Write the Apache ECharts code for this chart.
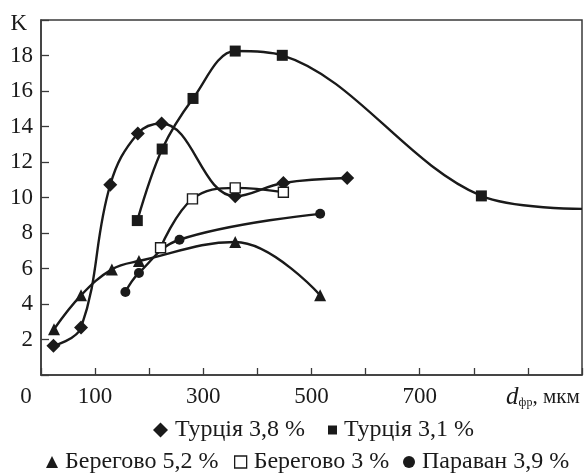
<!DOCTYPE html>
<html>
<head>
<meta charset="utf-8">
<script src="https://cdn.jsdelivr.net/npm/echarts@6/dist/echarts.min.js"></script>
<style>html,body{margin:0;padding:0;background:#fff}#c{width:585px;height:476px}</style>
</head>
<body>
<div id="c"></div>
<script>
// ---- data ----
const seriesNames = ['Турція 3,8 %', 'Турція 3,1 %', 'Берегово 5,2 %', 'Берегово 3 %', 'Параван 3,9 %'];
const turkey38X = [23, 74, 128, 179, 223, 359, 448, 566];
const turkey38Y = [1.65, 2.67, 10.72, 13.61, 14.17, 10.07, 10.82, 11.1];
const turkey31X = [178, 224, 281, 359, 446, 814, 1000];
const turkey31Y = [8.7, 12.73, 15.58, 18.25, 18.01, 10.09, 9.36];
const beregovo52X = [24, 74, 131, 181, 359, 516];
const beregovo52Y = [2.58, 4.49, 5.95, 6.42, 7.49, 4.49];
const beregovo3X = [221, 280, 359, 448];
const beregovo3Y = [7.17, 9.92, 10.54, 10.3];
const paravanX = [156, 181, 256, 516];
const paravanY = [4.68, 5.75, 7.62, 9.08];
const xTickLabels = {0: '0', 100: '100', 300: '300', 500: '500', 700: '700'};
const yTickLabels = {2: '2', 4: '4', 6: '6', 8: '8', 10: '10', 12: '12', 14: '14', 16: '16', 18: '18', 20: 'K'};

const FONT = "'Liberation Serif', 'Times New Roman', 'DejaVu Serif', serif";
const INK = '#1a1a1a';
const pairs = (xs, ys) => xs.map((x, i) => [x, ys[i]]);

function line(name, data, symbol, size, itemStyle, smooth) {
  return {
    name, type: 'line', data, symbol, symbolSize: size, smooth: smooth || 0.4,
    lineStyle: {color: INK, width: 2.4},
    itemStyle: Object.assign({color: INK, borderWidth: 0}, itemStyle || {}),
    z: 3
  };
}

const t31 = pairs(turkey31X, turkey31Y).map((p, i, a) => i === a.length - 1 ? {value: p, symbol: 'none'} : p);

const chart = echarts.init(document.getElementById('c'), null, {renderer: 'canvas'});
function leg(name, icon, size, left, top, fontSize, itemStyle) {
  return {
    data: [Object.assign({name, icon}, itemStyle ? {itemStyle} : {})],
    left, top, itemWidth: size, itemHeight: size, selectedMode: false,
    textStyle: {fontFamily: FONT, fontSize, color: INK, padding: [0, 0, 0, 2]}, padding: 0
  };
}
chart.setOption({
  animation: false,
  backgroundColor: '#fff',
  grid: {left: 41, right: 3, top: 20, bottom: 101, show: true, borderColor: '#3a3a3a', borderWidth: 1.5},
  legend: [
    leg(seriesNames[0], 'diamond', 15, 153, 418, 24),
    leg(seriesNames[1], 'rect', 9, 328, 418, 24),
    leg(seriesNames[2], 'triangle', 12, 46, 450, 24),
    leg(seriesNames[3], 'rect', 12, 234, 450, 24, {color: '#fff', borderColor: INK, borderWidth: 1.3}),
    leg(seriesNames[4], 'circle', 12, 403, 450, 24)
  ],
  xAxis: {
    type: 'value', min: 0, max: 1000, interval: 100,
    axisLine: {lineStyle: {color: '#3a3a3a', width: 1.5}},
    axisTick: {inside: true, length: 7, lineStyle: {color: '#3a3a3a', width: 1.3}},
    splitLine: {show: false},
    axisLabel: {
      margin: 10, fontFamily: FONT, fontSize: 23, color: INK, showMaxLabel: true, showMinLabel: true,
      formatter: v => {
        if (v === 0) return '{z|0}';
        if (v === 900) return '{d|d}{s|фр}{u|, мкм}';
        return xTickLabels[v] || '';
      },
      rich: {
        z: {fontFamily: FONT, fontSize: 23, color: INK, padding: [0, 30, 0, 0]},
        d: {fontFamily: FONT, fontSize: 25, fontStyle: 'italic', color: INK, padding: [0, 0, 0, 30]},
        s: {fontFamily: FONT, fontSize: 12, color: INK, padding: [10, 0, 0, 0]},
        u: {fontFamily: FONT, fontSize: 21, color: INK}
      }
    }
  },
  yAxis: {
    type: 'value', min: 0, max: 20, interval: 2,
    axisLine: {show: true, lineStyle: {color: '#3a3a3a', width: 1.5}},
    axisTick: {show: true, inside: true, length: 8, lineStyle: {color: '#3a3a3a', width: 1.3}},
    splitLine: {show: false},
    axisLabel: {
      margin: 8, fontFamily: FONT, fontSize: 23, color: INK,
      formatter: v => v === 20 ? '{k|K}' : (yTickLabels[v] || ''),
      rich: {k: {fontFamily: FONT, fontSize: 23, color: INK, padding: [8, 6, 0, 0]}}
    }
  },
  series: [
    line(seriesNames[0], pairs(turkey38X, turkey38Y), 'diamond', 14),
    line(seriesNames[1], t31, 'rect', 11, null, 0.35),
    line(seriesNames[2], pairs(beregovo52X, beregovo52Y), 'triangle', 12),
    line(seriesNames[3], pairs(beregovo3X, beregovo3Y), 'rect', 10, {color: '#fff', borderColor: INK, borderWidth: 1.4}),
    line(seriesNames[4], pairs(paravanX, paravanY), 'circle', 10)
  ]
});
</script>
</body>
</html>
